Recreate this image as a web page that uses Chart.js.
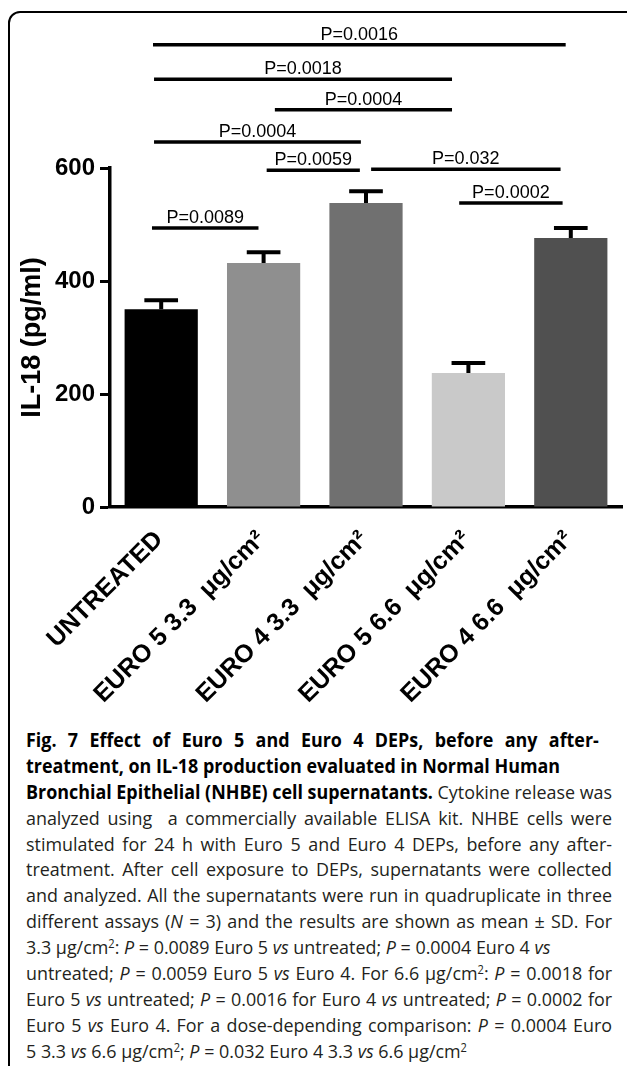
<!DOCTYPE html>
<html>
<head>
<meta charset="utf-8">
<title>IL-18 production</title>
<script src="https://cdn.jsdelivr.net/npm/chart.js@4.4.1/dist/chart.umd.min.js"></script>
<style>
    html, body { margin: 0; padding: 0; background: #fff; }
    body { width: 627px; height: 1066px; overflow: hidden; position: relative; }
    #frame { position: absolute; left: 8px; top: 11px; width: 660px; height: 1100px; border: 2.5px solid #000; border-top-left-radius: 12px; box-sizing: border-box; }
    #chart { position: absolute; left: 0; top: 0; }
    #caption { position: absolute; left: 26px; top: 728px; font-family: "Open Sans", sans-serif; font-size: 19px; line-height: 25.9px; color: #231f20; transform-origin: 0 0; }
    #caption div { white-space: nowrap; height: 25.9px; text-align: justify; text-align-last: justify; }
    #caption div.rag { text-align: left; text-align-last: left; }
    #caption div.first { margin-right: 14px; }
    #caption b { font-weight: 700; color: #000; }
    #caption sup { font-size: 0.62em; line-height: 0; vertical-align: 0.55em; }
</style>
</head>
<body>
<div id="frame"></div>
<canvas id="chart" width="627" height="715"></canvas>
<div id="caption">
<div class="first"><b>Fig. 7 Effect of Euro 5 and Euro 4 DEPs, before any after-</b></div>
<div class="rag"><b>treatment, on IL-18 production evaluated in Normal Human</b></div>
<div><b>Bronchial Epithelial (NHBE) cell supernatants.</b> Cytokine release was</div>
<div>analyzed using&nbsp; a commercially available ELISA kit. NHBE cells were</div>
<div>stimulated for 24 h with Euro 5 and Euro 4 DEPs, before any after-</div>
<div>treatment. After cell exposure to DEPs, supernatants were collected</div>
<div><span id="capRef">and analyzed. All the supernatants were run in quadruplicate in three</span></div>
<div>different assays (<i>N</i> = 3) and the results are shown as mean ± SD. For</div>
<div class="rag">3.3 μg/cm<sup>2</sup>: <i>P</i> = 0.0089 Euro 5 <i>vs</i> untreated; <i>P</i> = 0.0004 Euro 4 <i>vs</i></div>
<div>untreated; <i>P</i> = 0.0059 Euro 5 <i>vs</i> Euro 4. For 6.6 μg/cm<sup>2</sup>: <i>P</i> = 0.0018 for</div>
<div>Euro 5 <i>vs</i> untreated; <i>P</i> = 0.0016 for Euro 4 <i>vs</i> untreated; <i>P</i> = 0.0002 for</div>
<div>Euro 5 <i>vs</i> Euro 4. For a dose-depending comparison: <i>P</i> = 0.0004 Euro</div>
<div class="rag">5 3.3 <i>vs</i> 6.6 μg/cm<sup>2</sup>; <i>P</i> = 0.032 Euro 4 3.3 <i>vs</i> 6.6 μg/cm<sup>2</sup></div>
</div>
<script>
// Data
const categories = ['UNTREATED', 'EURO 5 3.3  μg/cm²', 'EURO 4 3.3  μg/cm²', 'EURO 5 6.6  μg/cm²', 'EURO 4 6.6  μg/cm²'];
const meanValues = [350, 432, 538, 237, 476];
const sdValues = [16, 19, 21, 18, 18];
const barColors = ['#000000', '#8f8f8f', '#707070', '#c9c9c9', '#505050'];
const yTicks = [0, 200, 400, 600];

// Significance brackets: label, start/end (category position), height (pg/ml)
const pLabels = ['P=0.0016', 'P=0.0018', 'P=0.0004', 'P=0.0004', 'P=0.0059', 'P=0.032', 'P=0.0002', 'P=0.0089'];
const pFrom = [-0.08, -0.07, 1.11, -0.07, 1.03, 2.05, 2.91, -0.09];
const pTo = [3.95, 2.84, 2.84, 1.95, 1.94, 3.90, 3.92, 0.95];
const pHeight = [818, 757, 703, 646, 596, 598, 538, 494];

const FONT = '"Liberation Sans", Arial, Helvetica, sans-serif';

const annotate = {
    id: 'annotate',
    afterDatasetsDraw(chart) {
        const { ctx, scales: { x, y } } = chart;
        const meta = chart.getDatasetMeta(0);
        ctx.save();
        ctx.strokeStyle = '#000';
        ctx.lineCap = 'butt';

        // SD error bars (upper only)
        ctx.lineWidth = 4;
        meta.data.forEach((bar, i) => {
            const top = y.getPixelForValue(meanValues[i] + sdValues[i]);
            const half = bar.width * 0.23;
            ctx.beginPath();
            ctx.moveTo(bar.x, bar.y);
            ctx.lineTo(bar.x, top);
            ctx.moveTo(bar.x - half, top);
            ctx.lineTo(bar.x + half, top);
            ctx.stroke();
        });

        // p-value lines
        ctx.lineWidth = 3.5;
        ctx.fillStyle = '#000';
        ctx.font = '18px ' + FONT;
        ctx.textAlign = 'center';
        ctx.textBaseline = 'alphabetic';
        pLabels.forEach((label, i) => {
            const x0 = x.getPixelForValue(pFrom[i]);
            const x1 = x.getPixelForValue(pTo[i]);
            const py = y.getPixelForValue(pHeight[i]);
            ctx.beginPath();
            ctx.moveTo(x0, py);
            ctx.lineTo(x1, py);
            ctx.stroke();
            ctx.fillText(label, (x0 + x1) / 2, py - 5);
        });
        ctx.restore();
    }
};

new Chart(document.getElementById('chart'), {
    type: 'bar',
    data: {
        labels: categories,
        datasets: [{
            data: meanValues,
            backgroundColor: barColors,
            borderWidth: 0,
            categoryPercentage: 1,
            barPercentage: 0.715
        }]
    },
    options: {
        responsive: false,
        animation: false,
        layout: { padding: { top: 168, right: 5, bottom: 0, left: 0 } },
        plugins: { legend: { display: false }, tooltip: { enabled: false } },
        scales: {
            x: {
                z: 1,
                grid: { drawOnChartArea: false, drawTicks: false },
                border: { display: true, color: '#000', width: 3.5 },
                ticks: {
                    color: '#000',
                    font: { family: FONT, size: 25, weight: 'bold' },
                    minRotation: 45,
                    maxRotation: 45,
                    padding: 18,
                    labelOffset: -2,
                    autoSkip: false
                },
                afterFit: s => { s.height = 208; }
            },
            y: {
                z: 1,
                min: 0,
                max: 600,
                grid: { drawOnChartArea: false, drawTicks: true, tickLength: 10, tickWidth: 3, tickColor: '#000' },
                border: { display: true, color: '#000', width: 3.5 },
                ticks: {
                    color: '#000',
                    padding: 5,
                    font: { family: FONT, size: 24, weight: 'bold' }
                },
                afterBuildTicks: s => { s.ticks = yTicks.map(v => ({ value: v })); },
                title: {
                    display: true,
                    text: 'IL-18 (pg/ml)',
                    color: '#000',
                    font: { family: FONT, size: 27, weight: 'bold' },
                    padding: { top: 16, bottom: 0 }
                },
                afterFit: s => { s.width = 110; }
            }
        }
    },
    plugins: [annotate]
});

// squeeze the caption to the printed column (26px .. 612px)
const cap = document.getElementById('caption');
const refW = document.getElementById('capRef').getBoundingClientRect().width;
const k = 586 / refW;
cap.style.width = (586 / k) + 'px';
cap.style.transform = `scaleX(${k})`;
</script>
</body>
</html>
